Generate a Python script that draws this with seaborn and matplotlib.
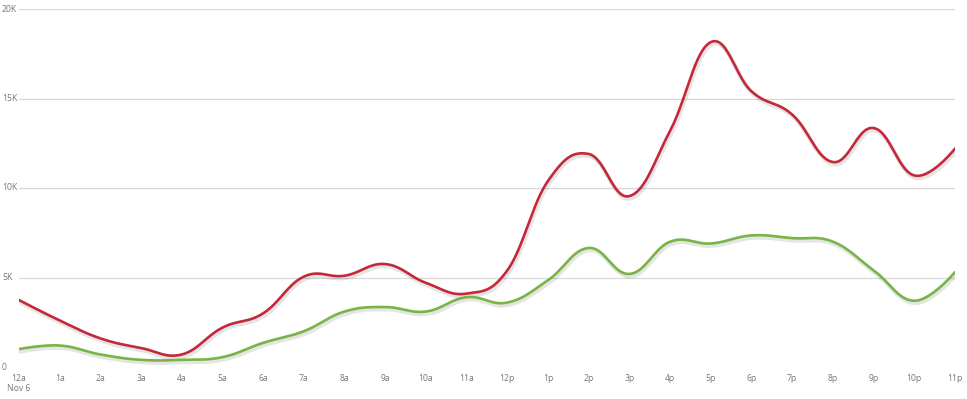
import numpy as np
import pandas as pd
import matplotlib
matplotlib.use("Agg")
import matplotlib.pyplot as plt
import matplotlib.transforms as mtransforms
import seaborn as sns

# ---------- DATA ----------
hours = list(range(24))
hour_labels = ["12a\nNov 6", "1a", "2a", "3a", "4a", "5a", "6a", "7a", "8a", "9a", "10a", "11a",
               "12p", "1p", "2p", "3p", "4p", "5p", "6p", "7p", "8p", "9p", "10p", "11p"]
red_values = [3740, 2600, 1600, 1060, 700, 2200, 3000, 5050, 5100, 5750, 4700, 4100,
              5400, 10400, 11900, 9550, 13200, 18150, 15400, 14100, 11450, 13350, 10700, 12200]
green_values = [1000, 1200, 700, 400, 400, 550, 1350, 2000, 3100, 3350, 3100, 3900,
                3600, 4850, 6650, 5200, 7000, 6900, 7350, 7200, 7000, 5400, 3700, 5300]
y_ticks = [0, 5000, 10000, 15000, 20000]
y_tick_labels = ["0", "5K", "10K", "15K", "20K"]

RED = "#C4283A"
GREEN = "#78B446"


# ---------- SMOOTH (highcharts-like spline between hourly points) ----------
def spline(xs, ys, steps=30, smoothing=1.5):
    xs = np.asarray(xs, float)
    ys = np.asarray(ys, float)
    out_x, out_y = [], []
    n = len(xs)
    # control points
    left_c, right_c = [], []
    for i in range(n):
        if 0 < i < n - 1:
            lx = (smoothing * xs[i] + xs[i - 1]) / (smoothing + 1)
            ly = (smoothing * ys[i] + ys[i - 1]) / (smoothing + 1)
            rx = (smoothing * xs[i] + xs[i + 1]) / (smoothing + 1)
            ry = (smoothing * ys[i] + ys[i + 1]) / (smoothing + 1)
            # tangent correction
            if rx != lx:
                corr = ((ry - ly) * (rx - xs[i])) / (rx - lx) + ys[i] - ry
            else:
                corr = 0
            ly += corr
            ry += corr
            left_c.append((lx, ly))
            right_c.append((rx, ry))
        else:
            left_c.append((xs[i], ys[i]))
            right_c.append((xs[i], ys[i]))
    t = np.linspace(0, 1, steps, endpoint=False)
    for i in range(n - 1):
        p0 = np.array([xs[i], ys[i]])
        p1 = np.array(right_c[i])
        p2 = np.array(left_c[i + 1])
        p3 = np.array([xs[i + 1], ys[i + 1]])
        pts = ((1 - t) ** 3)[:, None] * p0 + (3 * (1 - t) ** 2 * t)[:, None] * p1 \
            + (3 * (1 - t) * t ** 2)[:, None] * p2 + (t ** 3)[:, None] * p3
        out_x.extend(pts[:, 0])
        out_y.extend(pts[:, 1])
    out_x.append(xs[-1])
    out_y.append(ys[-1])
    return np.array(out_x), np.array(out_y)


rx, ry = spline(hours, red_values)
gx, gy = spline(hours, green_values)
df = pd.concat([
    pd.DataFrame({"hour": rx, "value": ry, "series": "red"}),
    pd.DataFrame({"hour": gx, "value": gy, "series": "green"}),
])

# ---------- PLOT ----------
sns.set_style("white")
plt.rcParams["font.family"] = ["Open Sans", "DejaVu Sans"]

fig = plt.figure(figsize=(9.67, 3.99), dpi=100)
ax = fig.add_axes([19 / 967, 1 - 367 / 399, (955 - 19) / 967, (367 - 9) / 399])

# soft shadow below lines
shadow = mtransforms.offset_copy(ax.transData, fig=fig, x=0.8, y=-1.6, units="points")
for name in ["green", "red"]:
    sub = df[df["series"] == name]
    ax.plot(sub["hour"], sub["value"], color="#000000", alpha=0.10, lw=3.2,
            transform=shadow, solid_capstyle="round", zorder=2)

sns.lineplot(data=df, x="hour", y="value", hue="series", palette={"red": RED, "green": GREEN},
             sort=False, estimator=None, linewidth=1.9, legend=False, ax=ax, zorder=3)

ax.set_xlim(0, 23)
ax.set_ylim(0, 20000)
for v in y_ticks[1:]:
    ax.axhline(v, color="#D8D8D8", lw=0.9, zorder=1)

for s in ax.spines.values():
    s.set_visible(False)
ax.set_xlabel("")
ax.set_ylabel("")
ax.set_yticks([])
ax.set_xticks(hours)
ax.set_xticklabels(hour_labels, fontsize=6.2, color="#777777", linespacing=1.1)
ax.tick_params(axis="x", length=0, pad=5)

trans = mtransforms.blended_transform_factory(fig.transFigure, ax.transData)
for v, lab in zip(y_ticks, y_tick_labels):
    ax.text(2 / 967, v, lab, transform=trans, ha="left", va="center",
            fontsize=6.2, color="#777777")

fig.savefig("out.png", dpi=100)
